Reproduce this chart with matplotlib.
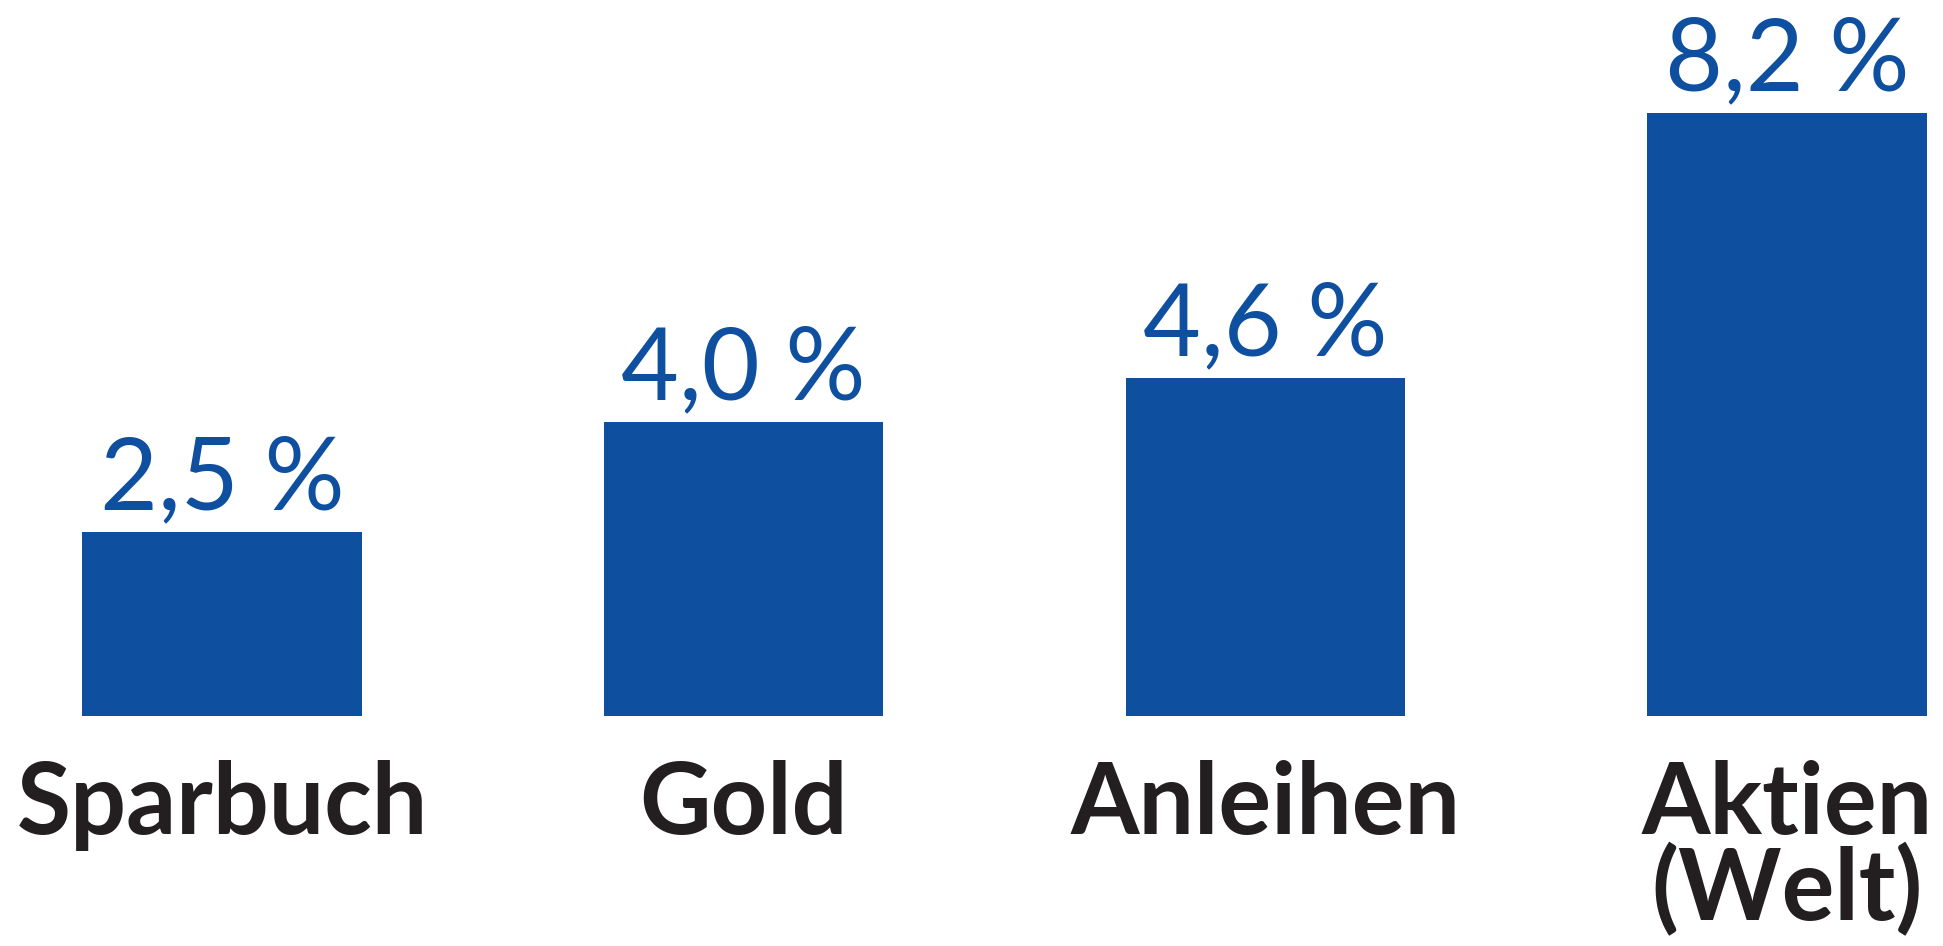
import matplotlib
matplotlib.use("Agg")
import matplotlib.pyplot as plt
import numpy as np

# data
categories = ["Sparbuch", "Gold", "Anleihen", "Aktien\n(Welt)"]
returns = [2.5, 4.0, 4.6, 8.2]
value_labels = ["2,5 %", "4,0 %", "4,6 %", "8,2 %"]

BLUE = "#0e4fa0"
DARK = "#231f20"

plt.rcParams["font.family"] = ["Lato", "DejaVu Sans"]

fig = plt.figure(figsize=(19.43, 9.46), dpi=100)
ax = fig.add_axes([0, 0, 1, 1])

x = np.arange(len(categories))
bars = ax.bar(x, returns, width=0.535, color=BLUE, zorder=2)

# value labels above the bars
for rect, lab in zip(bars, value_labels):
    ax.annotate(lab, (rect.get_x() + rect.get_width() / 2, rect.get_height()),
                xytext=(0, 16.5), textcoords="offset points",
                ha="center", va="baseline", fontsize=72, color=BLUE)

# category labels below the baseline (top-aligned so multi-line works)
for xi, cat in zip(x, categories):
    ax.annotate(cat, (xi, 0), xytext=(0, -31.5), textcoords="offset points",
                ha="center", va="top", fontsize=71, fontweight="bold",
                color=DARK, linespacing=0.9)

ax.set_xlim(-0.4255, 3.299)
ax.set_ylim(-3.129, 9.741)
ax.axis("off")

fig.savefig("out.png", dpi=100, facecolor="white")
